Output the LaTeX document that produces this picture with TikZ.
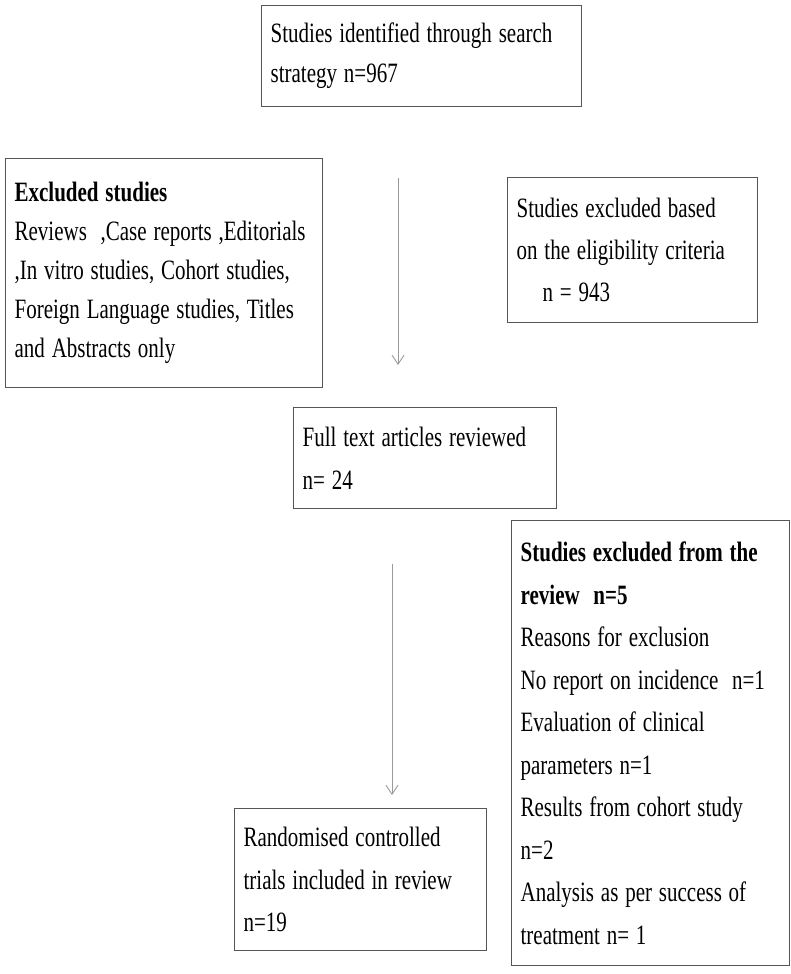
\documentclass[tikz,border=0pt]{standalone}
\usepackage{fontspec}
\setmainfont[FakeStretch=0.75,WordSpace=1.3]{Liberation Serif}
\usetikzlibrary{arrows.meta}
\definecolor{boxline}{HTML}{555555}
\definecolor{arrowline}{HTML}{9A9A9A}
\tikzset{
  stagebox/.style={draw=boxline, line width=1.3pt, anchor=north west, align=flush left,
    inner xsep=9pt, inner ysep=0pt, font=\fontsize{28}{40}\selectfont},
  flow/.style={draw=arrowline, line width=0.9pt, -{Straight Barb[length=9pt,width=12pt]}}
}
\begin{document}
\begin{tikzpicture}[x=1pt,y=-1pt]
    \useasboundingbox (0,0) rectangle (790,974);
    \node[stagebox, text width=302pt, minimum height=101pt] (ident) at (261,5)
        {Studies identified through search\\strategy n=967};
    \node[stagebox, text width=299pt, minimum height=229pt, font=\fontsize{28}{39}\selectfont] (excl) at (5,158)
        {\textbf{Excluded studies}\\Reviews\ \ ,Case reports ,Editorials\\,In vitro studies, Cohort studies,\\Foreign Language studies, Titles\\and Abstracts only};
    \node[stagebox, text width=232pt, minimum height=145pt, font=\fontsize{28}{42}\selectfont] (elig) at (507,177)
        {Studies excluded based\\on the eligibility criteria\\\hspace*{26pt}n = 943};
    \node[stagebox, text width=245pt, minimum height=101pt, font=\fontsize{28}{43}\selectfont] (fulltext) at (293,407)
        {Full text articles reviewed\\n= 24};
    \node[stagebox, text width=260pt, minimum height=445pt, font=\fontsize{28}{42.5}\selectfont] (exclrev) at (511,520)
        {\textbf{Studies excluded from the}\\\textbf{review\ \ n=5}\\Reasons for exclusion\\No report on incidence\ \ n=1\\Evaluation of clinical\\parameters n=1\\Results from cohort study\\n=2\\Analysis as per success of\\treatment n= 1};
    \node[stagebox, text width=234pt, minimum height=142pt, font=\fontsize{28}{42.5}\selectfont] (rct) at (234,808)
        {Randomised controlled\\trials included in review\\n=19};
    \coordinate (a1s) at (398,178);
    \coordinate (a1e) at (398,365);
    \coordinate (a2s) at (392,564);
    \coordinate (a2e) at (392,795);
    \draw[flow] (a1s) -- (a1e);
    \draw[flow] (a2s) -- (a2e);
\end{tikzpicture}
\end{document}
